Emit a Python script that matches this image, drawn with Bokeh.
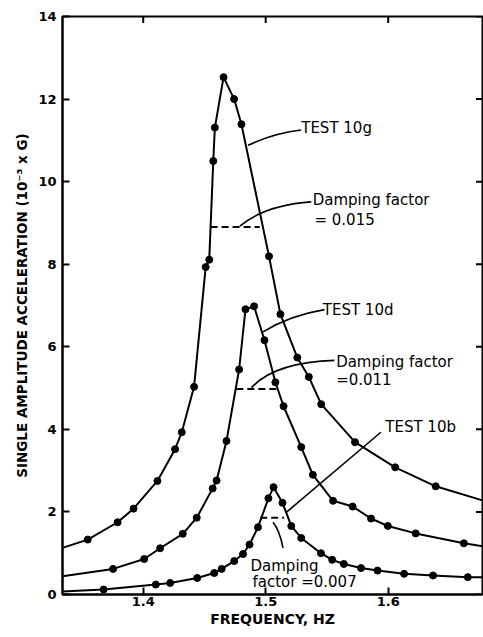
import math
from bokeh.plotting import figure
from bokeh.models import Range1d, FixedTicker, Label
from bokeh.embed import file_html
from bokeh.resources import INLINE

# ---------------- data ----------------
# measured points (dots)
test10g_x = [1.3547, 1.3791, 1.3921, 1.4116, 1.4260, 1.4315, 1.4415, 1.4510, 1.4539, 1.4572, 1.4585,
             1.4656, 1.4742, 1.4802, 1.5027, 1.5120, 1.5258, 1.5352, 1.5453, 1.5729, 1.6057, 1.6388]
test10g_y = [1.33, 1.75, 2.08, 2.75, 3.52, 3.93, 5.03, 7.93, 8.11, 10.50, 11.31,
             12.53, 12.00, 11.39, 8.19, 6.79, 5.74, 5.27, 4.61, 3.69, 3.08, 2.62]

test10d_x = [1.3754, 1.4008, 1.4138, 1.4323, 1.4437, 1.4567, 1.4599, 1.4680, 1.4783, 1.4835, 1.4905,
             1.4990, 1.5079, 1.5146, 1.5290, 1.5385, 1.5550, 1.5710, 1.5860, 1.5997, 1.6225, 1.6618]
test10d_y = [0.62, 0.86, 1.12, 1.47, 1.86, 2.57, 2.76, 3.72, 5.45, 6.91, 6.98,
             6.16, 5.14, 4.56, 3.57, 2.90, 2.27, 2.13, 1.84, 1.66, 1.48, 1.24]

test10b_x = [1.3677, 1.4103, 1.4220, 1.4441, 1.4580, 1.4640, 1.4743, 1.4815, 1.4868, 1.4937, 1.5022, 1.5064,
             1.5137, 1.5209, 1.5290, 1.5451, 1.5543, 1.5638, 1.5778, 1.5913, 1.6130, 1.6366, 1.6650]
test10b_y = [0.12, 0.24, 0.28, 0.40, 0.52, 0.62, 0.81, 0.98, 1.21, 1.63, 2.33, 2.60,
             2.22, 1.66, 1.37, 1.00, 0.84, 0.74, 0.64, 0.58, 0.50, 0.46, 0.42]

# where each faired curve meets the left axis and leaves the right edge
curve_start_x = [1.3341, 1.3341, 1.3341]
curve_start_y = [1.13, 0.44, 0.07]
curve_end_x = [1.677, 1.677, 1.677]
curve_end_y = [2.28, 1.17, 0.42]

# half-power (damping) dashed lines
damp_y = [8.90, 4.98, 1.86]
damp_x0 = [1.4550, 1.4760, 1.4955]
damp_x1 = [1.4951, 1.5100, 1.5150]

# axis ranges and tick labels
x_min, x_max = 1.3341, 1.677
y_min, y_max = 0, 14
x_ticks = [1.4, 1.5, 1.6]
x_tick_labels = ["1.4", "1.5", "1.6"]
y_ticks = [0, 2, 4, 6, 8, 10, 12, 14]
y_tick_labels = ["0", "2", "4", "6", "8", "10", "12", "14"]

# annotation texts and their anchor (left, middle) positions
ann_text = ["TEST 10g", "Damping factor", "= 0.015", "TEST 10d", "Damping factor", "=0.011",
            "TEST 10b", "Damping", "factor =0.007"]
ann_x = [1.5290, 1.5384, 1.5398, 1.5466, 1.5575, 1.5575, 1.5976, 1.4876, 1.4892]
ann_y = [11.30, 9.55, 9.07, 6.885, 5.63, 5.20, 4.06, 0.686, 0.30]

# leader lines: start, end, control point
lead_x0 = [1.4856, 1.4789, 1.4978, 1.4884, 1.5940, 1.5060]
lead_y0 = [10.88, 8.92, 6.36, 5.01, 3.93, 1.75]
lead_x1 = [1.5290, 1.5372, 1.5480, 1.5561, 1.5168, 1.5141]
lead_y1 = [11.25, 9.51, 6.90, 5.67, 1.99, 1.13]
lead_cx = [1.5073, 1.4992, 1.5195, 1.5073, 1.5554, 1.5114]
lead_cy = [11.18, 9.43, 6.76, 5.62, 2.96, 1.55]

# ---------------- figure ----------------
FONT = "DejaVu Sans"

p = figure(width=483, height=637, output_backend="svg", toolbar_location=None,
           x_range=Range1d(x_min, x_max), y_range=Range1d(y_min, y_max),
           min_border_left=62, min_border_right=1, min_border_top=16, min_border_bottom=43,
           x_axis_label="FREQUENCY, HZ",
           y_axis_label="SINGLE AMPLITUDE ACCELERATION (10\u207b\u00b3 x G)")
p.background_fill_color = "white"
p.border_fill_color = "white"
p.grid.visible = False
p.outline_line_color = "black"
p.outline_line_width = 2

for ax, ticks, labels in ((p.xaxis[0], x_ticks, x_tick_labels), (p.yaxis[0], y_ticks, y_tick_labels)):
    ax.ticker = FixedTicker(ticks=ticks)
    ax.major_label_overrides = {t: l for t, l in zip(ticks, labels)}
    ax.major_tick_in = 7
    ax.major_tick_out = 0
    ax.minor_tick_line_color = None
    ax.axis_line_width = 2
    ax.major_tick_line_width = 2
    ax.major_label_text_font = FONT
    ax.major_label_text_font_style = "bold"
    ax.major_label_text_font_size = "13px"
    ax.major_label_text_color = "black"
    ax.axis_label_text_font = FONT
    ax.axis_label_text_font_style = "bold"
    ax.axis_label_text_color = "black"

p.xaxis.major_label_standoff = 2
p.xaxis.axis_label_standoff = 2
p.xaxis.axis_label_text_font_size = "14px"
p.yaxis.major_label_standoff = 6
p.yaxis.axis_label_standoff = 5
p.yaxis.axis_label_text_font_size = "13.5px"

# inward tick marks on the top and right frame edges (clipped to the frame)
p.scatter(x=x_ticks, y=[y_max] * len(x_ticks), marker="dash", angle=math.pi / 2, size=13,
          line_color="black", line_width=2)
p.scatter(x=[x_max] * len(y_ticks), y=y_ticks, marker="dash", size=13,
          line_color="black", line_width=2)

series = [(test10g_x, test10g_y), (test10d_x, test10d_y), (test10b_x, test10b_y)]
for i, (xs, ys) in enumerate(series):
    lx = [curve_start_x[i]] + xs + [curve_end_x[i]]
    ly = [curve_start_y[i]] + ys + [curve_end_y[i]]
    p.line(lx, ly, line_color="black", line_width=2)
    p.scatter(xs, ys, size=7, fill_color="black", line_color="black")

p.segment(x0=damp_x0, y0=damp_y, x1=damp_x1, y1=damp_y, line_color="black",
          line_width=2, line_dash="7 4")

p.quadratic(x0=lead_x0, y0=lead_y0, x1=lead_x1, y1=lead_y1, cx=lead_cx, cy=lead_cy,
            line_color="black", line_width=1.6)

for t, x, y in zip(ann_text, ann_x, ann_y):
    caps = t.startswith("TEST")
    p.add_layout(Label(x=x, y=y, text=t, text_font=FONT, text_font_size="15px",
                       text_font_style="normal", text_color="black",
                       text_baseline="middle", text_align="left"))

open("out.html", "w").write(file_html(p, INLINE))
